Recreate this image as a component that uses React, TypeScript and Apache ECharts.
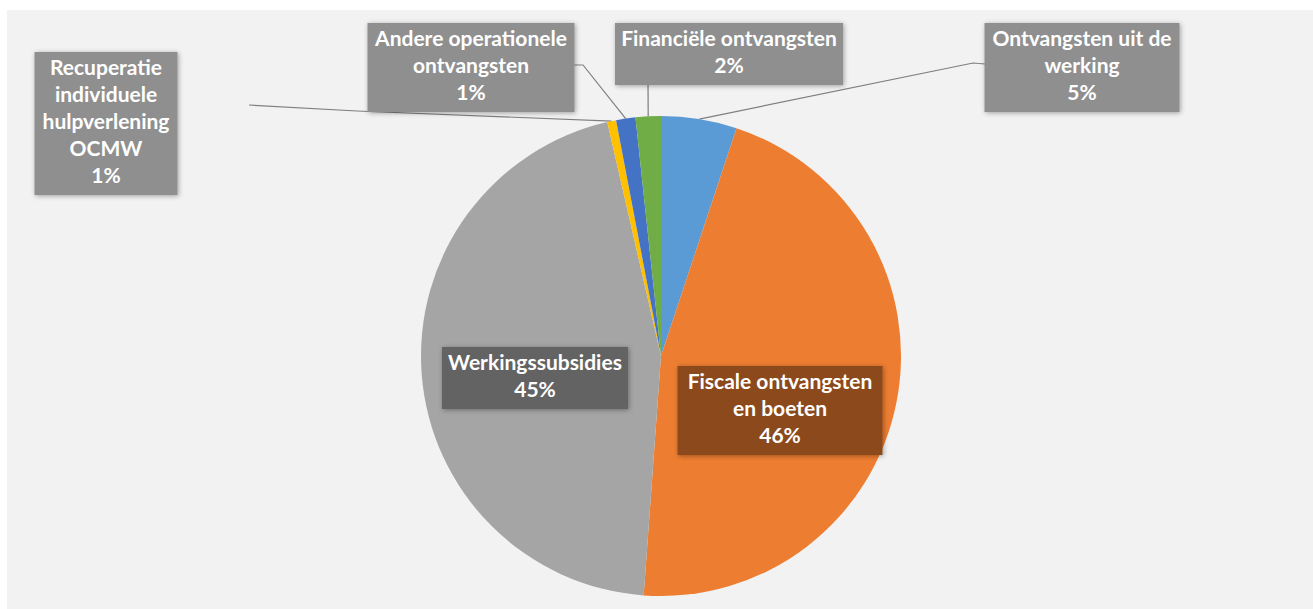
import React, { useEffect, useRef } from "react";
import * as echarts from "echarts";

const CATEGORIES = [
  "Ontvangsten uit de werking",
  "Fiscale ontvangsten en boeten",
  "Werkingssubsidies",
  "Recuperatie individuele hulpverlening OCMW",
  "Andere operationele ontvangsten",
  "Financiële ontvangsten",
];
const VALUES = [5.1, 46.1, 45.3, 0.6, 1.3, 1.7];
const LABEL_TEXT = [
  "Ontvangsten uit de\nwerking",
  "Fiscale ontvangsten\nen boeten",
  "Werkingssubsidies",
  "Recuperatie\nindividuele\nhulpverlening\nOCMW",
  "Andere operationele\nontvangsten",
  "Financiële ontvangsten",
];
const COLORS = ["#5b9bd5", "#ed7d31", "#a5a5a5", "#ffc000", "#4472c4", "#70ad47"];

// label layout (box centre x, box top y, box width, box colour, leader bends)
const LAYOUT = [
  { x: 1082, y: 23, w: 195, bg: "#8f8f8f", line: [[973, 63], [985, 64]] },
  { x: 780, y: 366, w: 205, bg: "#8b4a1f", line: null },
  { x: 535, y: 347, w: 186, bg: "#636363", line: null },
  { x: 106, y: 52, w: 143, bg: "#8f8f8f", line: [[357, 111], [249, 105]] },
  { x: 471, y: 23, w: 207, bg: "#8f8f8f", line: [[583, 65], [573, 65]] },
  { x: 729, y: 23, w: 228, bg: "#8f8f8f", line: [[648, 83]] },
];

const CX = 661;
const CY = 356;
const R = 240;

export default function App() {
  const ref = useRef<HTMLDivElement>(null);
  useEffect(() => {
    if (!ref.current) return;
    const chart = echarts.init(ref.current, null, { renderer: "svg" });
    const total = VALUES.reduce((a, b) => a + b, 0);
    const edgePoint = (i: number) => {
      let before = 0;
      for (let k = 0; k < i; k++) before += VALUES[k];
      const frac = (before + VALUES[i] / 2) / total;
      const ang = frac * Math.PI * 2;
      return [CX + R * Math.sin(ang), CY - R * Math.cos(ang)];
    };
    chart.setOption({
      animation: false,
      backgroundColor: "#ffffff",
      graphic: [
        {
          type: "rect",
          shape: { x: 7, y: 10, width: 1306, height: 599 },
          style: { fill: "#f2f2f2" },
          silent: true,
          z: -10,
        },
      ],
      series: [
        {
          type: "pie",
          center: [CX, CY],
          radius: R,
          startAngle: 90,
          clockwise: true,
          avoidLabelOverlap: false,
          itemStyle: { borderWidth: 0 },
          label: {
            show: true,
            position: "outside",
            fontFamily: "Lato",
            fontWeight: "bold",
            fontSize: 21,
            lineHeight: 27,
            color: "#ffffff",
            overflow: "none",
            padding: [1, 3, 7, 3],
            shadowBlur: 5,
            shadowColor: "rgba(0,0,0,0.35)",
            shadowOffsetX: 1,
            shadowOffsetY: 1,
          },
          labelLine: {
            show: true,
            lineStyle: { color: "#7f7f7f", width: 1.2 },
            smooth: false,
          },
          labelLayout: (params: any) => {
            const i = params.dataIndex;
            const L = LAYOUT[i];
            const res: any = { x: L.x, y: L.y, align: "center", verticalAlign: "top" };
            if (L.line) {
              res.labelLinePoints = [edgePoint(i), ...L.line];
            }
            return res;
          },
          data: CATEGORIES.map((name, i) => ({
            name,
            value: VALUES[i],
            itemStyle: { color: COLORS[i] },
            label: {
              backgroundColor: LAYOUT[i].bg,
              width: LAYOUT[i].w - 6,
              formatter: (p: any) =>
                LABEL_TEXT[i] + "\n" + Math.round(p.percent) + "%",
            },
            labelLine: { show: !!LAYOUT[i].line },
          })),
        },
      ],
    });
    return () => chart.dispose();
  }, []);
  return (
    <div
      ref={ref}
      style={{ position: "fixed", left: 0, top: 0, width: 1313, height: 609 }}
    />
  );
}
